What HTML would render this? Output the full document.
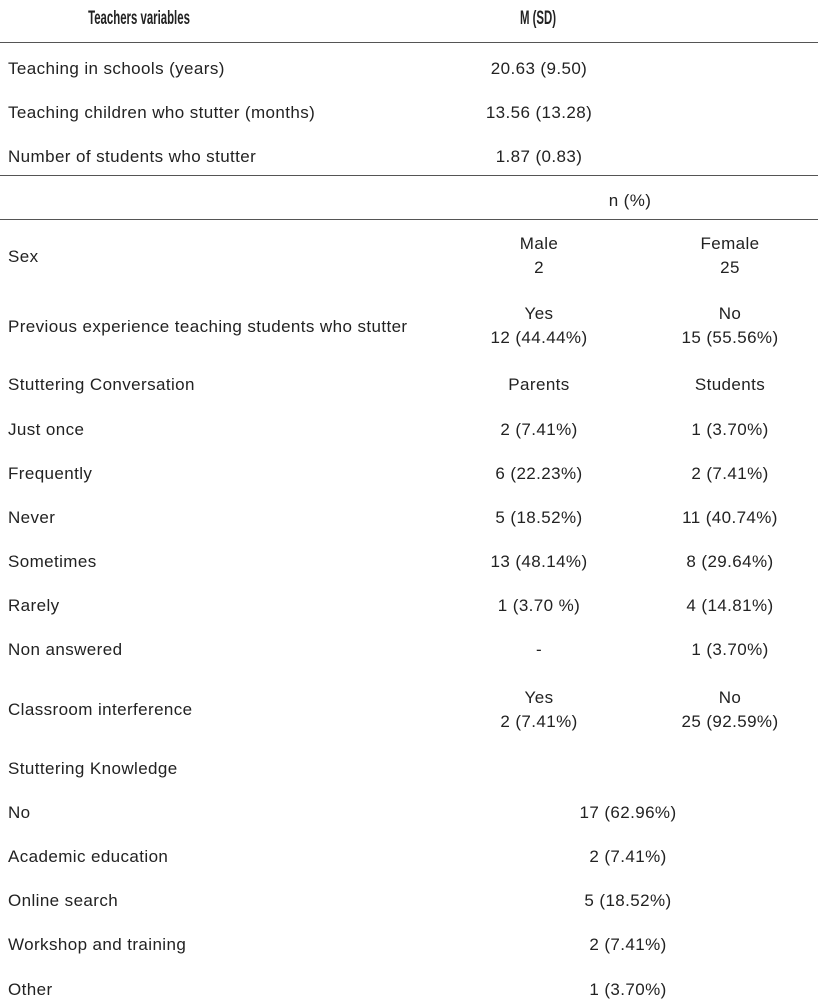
<!DOCTYPE html>
<html><head><meta charset="utf-8"><style>
body{margin:0;width:823px;height:1008px;background:#fff;position:relative;overflow:hidden;font-family:"Liberation Sans",sans-serif;font-size:17px;letter-spacing:0.4px;color:#222}
.t{position:absolute;white-space:nowrap;transform:translateY(-50%);line-height:24px}
.c{transform:translate(-50%,-50%);text-align:center}
.b{font-weight:bold;font-size:19px;letter-spacing:0;transform:translate(-50%,-50%) scaleX(0.6)}
.ln{position:absolute;left:0;width:818px;height:0;border-top:1.6px solid #555}
</style></head><body>
<div class="t c b" style="left:139px;top:19px">Teachers variables</div>
<div class="t c b" style="left:538px;top:19px">M (SD)</div>
<div class="ln" style="top:42px"></div>
<div class="t" style="left:8px;top:69px">Teaching in schools (years)</div>
<div class="t c" style="left:539px;top:69px">20.63 (9.50)</div>
<div class="t" style="left:8px;top:113px">Teaching children who stutter (months)</div>
<div class="t c" style="left:539px;top:113px">13.56 (13.28)</div>
<div class="t" style="left:8px;top:157px">Number of students who stutter</div>
<div class="t c" style="left:539px;top:157px">1.87 (0.83)</div>
<div class="ln" style="top:175px"></div>
<div class="t c" style="left:630px;top:201px">n (%)</div>
<div class="ln" style="top:219px"></div>

<div class="t" style="left:8px;top:257px">Sex</div>
<div class="t c" style="left:539px;top:256px">Male<br>2</div>
<div class="t c" style="left:730px;top:256px">Female<br>25</div>

<div class="t" style="left:8px;top:327px">Previous experience teaching students who stutter</div>
<div class="t c" style="left:539px;top:326px">Yes<br>12 (44.44%)</div>
<div class="t c" style="left:730px;top:326px">No<br>15 (55.56%)</div>

<div class="t" style="left:8px;top:385px">Stuttering Conversation</div>
<div class="t c" style="left:539px;top:385px">Parents</div>
<div class="t c" style="left:730px;top:385px">Students</div>

<div class="t" style="left:8px;top:430px">Just once</div>
<div class="t c" style="left:539px;top:430px">2 (7.41%)</div>
<div class="t c" style="left:730px;top:430px">1 (3.70%)</div>

<div class="t" style="left:8px;top:474px">Frequently</div>
<div class="t c" style="left:539px;top:474px">6 (22.23%)</div>
<div class="t c" style="left:730px;top:474px">2 (7.41%)</div>

<div class="t" style="left:8px;top:518px">Never</div>
<div class="t c" style="left:539px;top:518px">5 (18.52%)</div>
<div class="t c" style="left:730px;top:518px">11 (40.74%)</div>

<div class="t" style="left:8px;top:562px">Sometimes</div>
<div class="t c" style="left:539px;top:562px">13 (48.14%)</div>
<div class="t c" style="left:730px;top:562px">8 (29.64%)</div>

<div class="t" style="left:8px;top:606px">Rarely</div>
<div class="t c" style="left:539px;top:606px">1 (3.70 %)</div>
<div class="t c" style="left:730px;top:606px">4 (14.81%)</div>

<div class="t" style="left:8px;top:650px">Non answered</div>
<div class="t c" style="left:539px;top:650px">-</div>
<div class="t c" style="left:730px;top:650px">1 (3.70%)</div>

<div class="t" style="left:8px;top:710px">Classroom interference</div>
<div class="t c" style="left:539px;top:710px">Yes<br>2 (7.41%)</div>
<div class="t c" style="left:730px;top:710px">No<br>25 (92.59%)</div>

<div class="t" style="left:8px;top:769px">Stuttering Knowledge</div>

<div class="t" style="left:8px;top:813px">No</div>
<div class="t c" style="left:628px;top:813px">17 (62.96%)</div>
<div class="t" style="left:8px;top:857px">Academic education</div>
<div class="t c" style="left:628px;top:857px">2 (7.41%)</div>
<div class="t" style="left:8px;top:901px">Online search</div>
<div class="t c" style="left:628px;top:901px">5 (18.52%)</div>
<div class="t" style="left:8px;top:945px">Workshop and training</div>
<div class="t c" style="left:628px;top:945px">2 (7.41%)</div>
<div class="t" style="left:8px;top:990px">Other</div>
<div class="t c" style="left:628px;top:990px">1 (3.70%)</div>
</body></html>
